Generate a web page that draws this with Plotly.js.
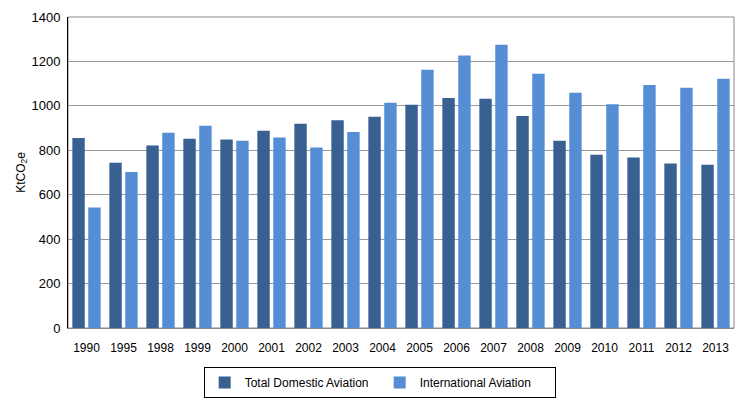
<!DOCTYPE html>
<html>
<head>
<meta charset="utf-8">
<script src="https://cdn.plot.ly/plotly-3.0.1.min.js"></script>
<style>html,body{margin:0;padding:0;background:#fff;}#chart{width:752px;height:402px;}</style>
</head>
<body>
<div id="chart"></div>
<script>
const years = ["1990","1995","1998","1999","2000","2001","2002","2003","2004","2005","2006","2007","2008","2009","2010","2011","2012","2013"];
const domestic = [855,744,821,852,848,888,920,935,951,1005,1035,1032,954,843,780,767,741,735];
const international = [542,702,879,911,843,857,812,882,1014,1163,1227,1275,1145,1059,1007,1094,1082,1122];
const yTicks = [0,200,400,600,800,1000,1200,1400];

const data = [
  {type:'bar', name:'Total Domestic Aviation', x:years, y:domestic, marker:{color:'#386192'}},
  {type:'bar', name:'International Aviation', x:years, y:international, marker:{color:'#558ed5'}}
];

const layout = {
  width:752, height:402,
  margin:{l:68, r:18, t:17, b:74, autoexpand:false},
  paper_bgcolor:'#fff', plot_bgcolor:'#fff',
  font:{family:'Liberation Sans, Arial, sans-serif', size:12, color:'#000'},
  barmode:'group', bargap:0.14, bargroupgap:0.22,
  xaxis:{type:'category', showline:true, linecolor:'#888', linewidth:1, ticks:'', tickfont:{size:12}, showgrid:false,
         ticklabelstandoff:9, automargin:false},
  yaxis:{range:[0,1400], tickvals:yTicks, ticktext:yTicks.map(String), showgrid:true, gridcolor:'#999', gridwidth:1,
         showline:true, linecolor:'#000', linewidth:1, zeroline:false, ticks:'', ticklen:0, tickfont:{size:13},
         ticklabelstandoff:4, automargin:false,
         title:{text:'KtCO<sub>2</sub>e', font:{size:12}, standoff:3}},
  shapes:[{type:'rect', xref:'paper', yref:'paper', x0:0, x1:1, y0:0, y1:1, line:{color:'#888', width:1}, layer:'below'}],
  showlegend:true,
  legend:{orientation:'h', x:0.468, xanchor:'center', y:-0.125, yanchor:'top',
          bordercolor:'#000', borderwidth:1, font:{size:12}, entrywidth:130, entrywidthmode:'pixels', itemwidth:30},
};
Plotly.newPlot('chart', data, layout, {displayModeBar:false, staticPlot:true});
</script>
</body>
</html>
